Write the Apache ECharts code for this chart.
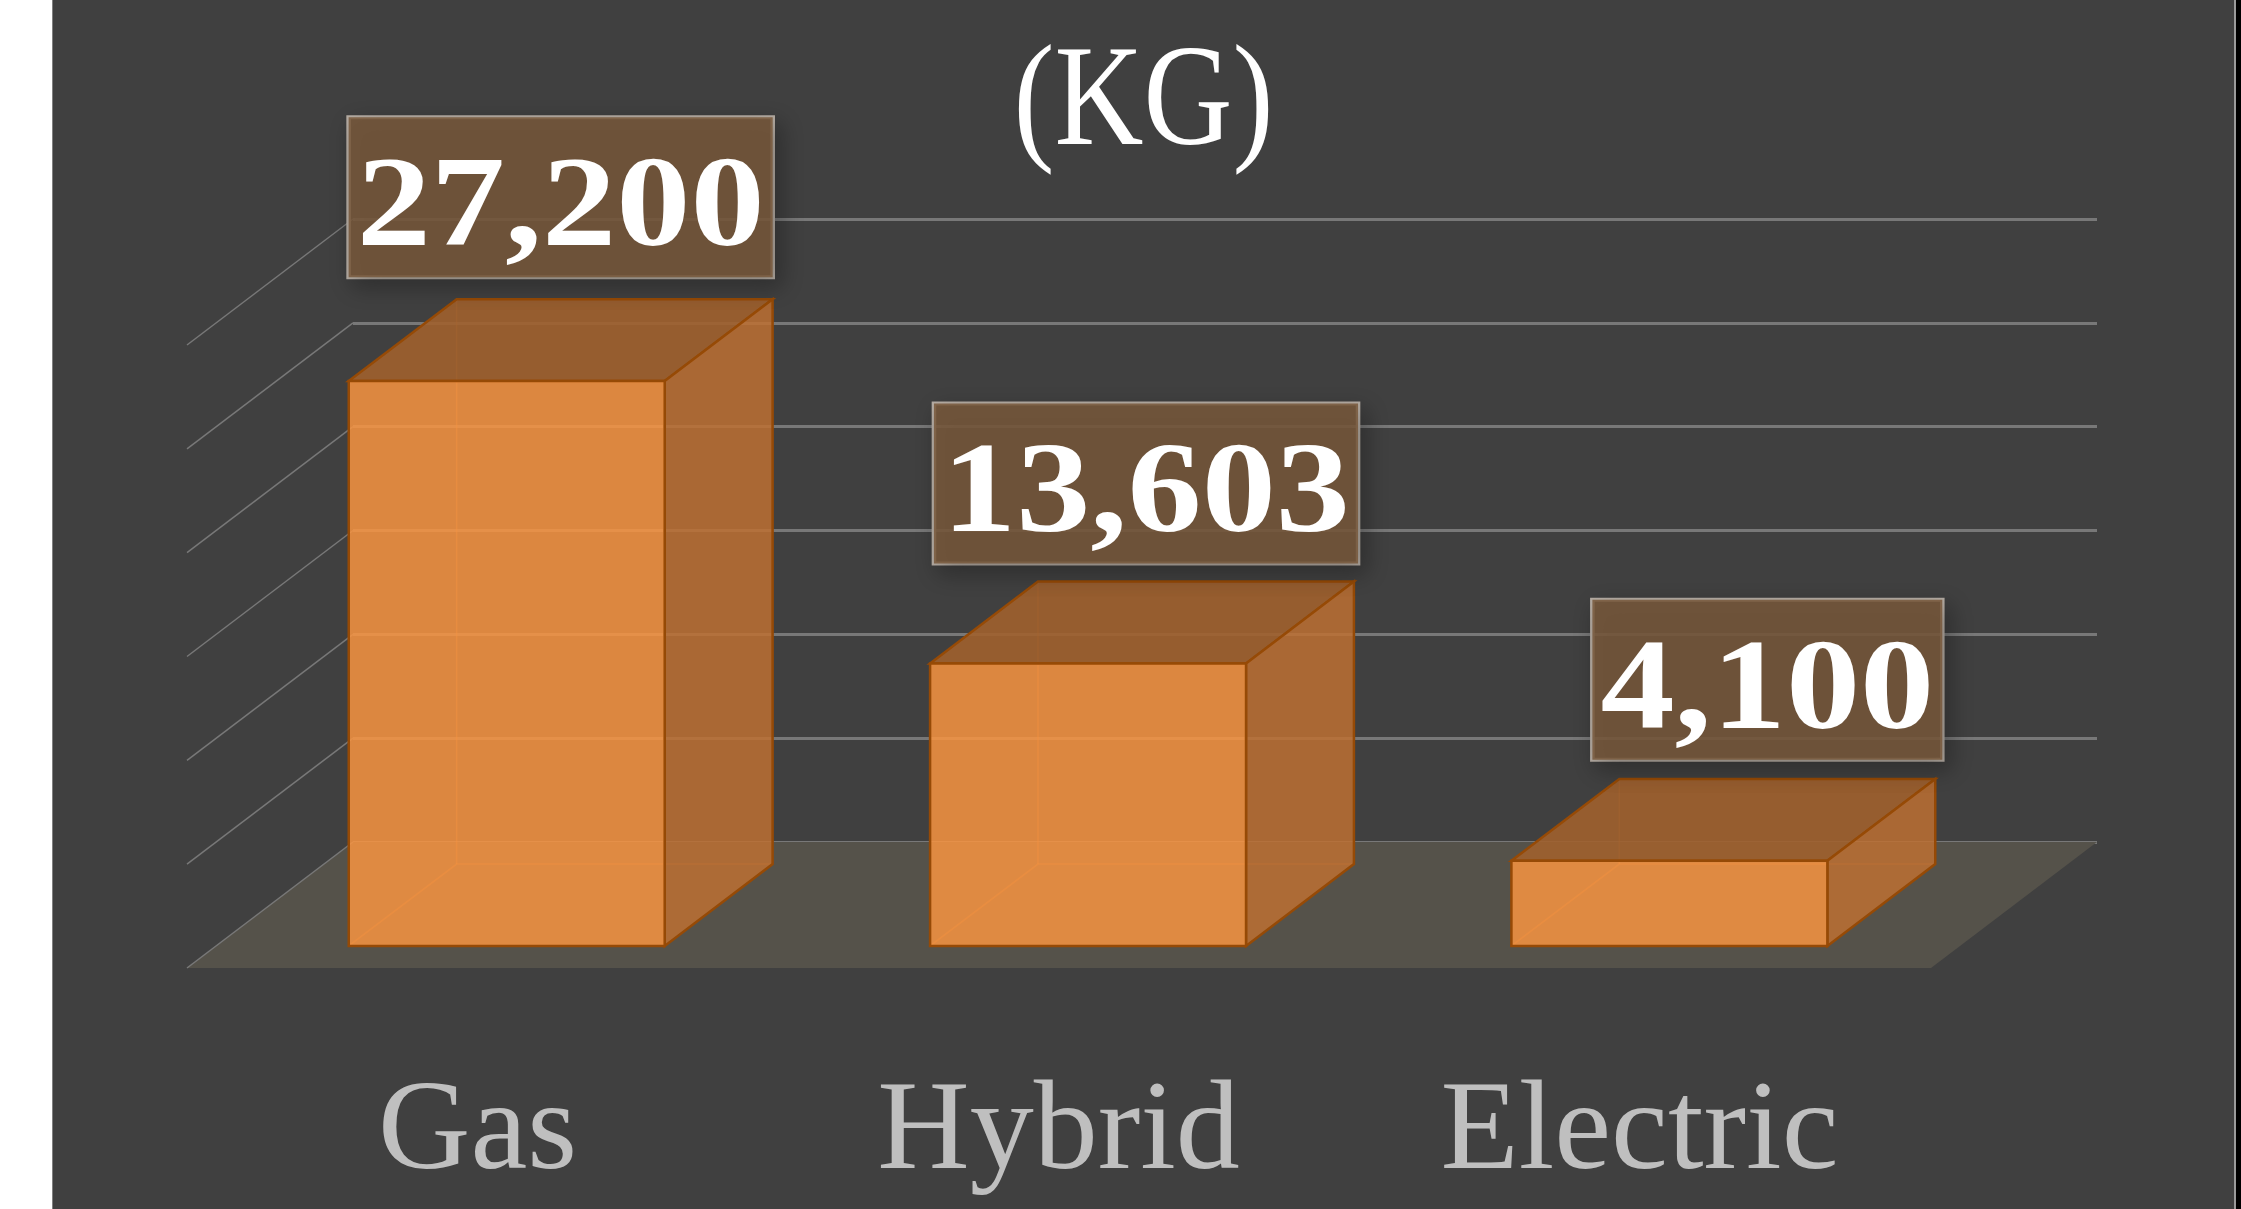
<!DOCTYPE html>
<html>
<head>
<meta charset="utf-8">
<title>Weight by vehicle type</title>
<script src="https://cdn.jsdelivr.net/npm/echarts@6/dist/echarts.min.js"></script>
<style>
    html, body { margin: 0; padding: 0; background: #fff; }
    /* white strip on the left, dark slide, thin frame and black on the right */
    #main {
        width: 2241px; height: 1209px;
        background: linear-gradient(90deg, #fff 52px, #808080 52px, #808080 53px, #404040 53px,
            #404040 2234px, #9a9a9a 2234px, #9a9a9a 2236px, #000 2236px);
    }
</style>
</head>
<body>
<div id="main"></div>
<script>
var categories = ['Gas', 'Hybrid', 'Electric'];
var weights = [27200, 13603, 4100];
var yTicks = [0, 5000, 10000, 15000, 20000, 25000, 30000];

const SERIF = '"Liberation Serif", serif';
const DEPTH_X = -166;       // floor depth, back wall to front edge
const DEPTH_Y = 126;
const BAR_NEAR = 0.825;     // where the bar's front face sits in that depth
const BAR_FAR = 0.175;      // and its back face
const BAR_RATIO = 0.5435;   // bar width / category width
const LABEL_NUDGE_X = [0, 4, 44]; // labels were moved by hand in the original
const LABEL_NUDGE_Y = [0, 4, 3];

/* Floor of the 3D plot */
function renderFloor(params, api) {
    var cs = params.coordSys;
    var y = api.coord([0, 0])[1];
    return {
        type: 'polygon',
        shape: { points: [
            [cs.x, y], [cs.x + cs.width, y],
            [cs.x + cs.width + DEPTH_X, y + DEPTH_Y], [cs.x + DEPTH_X, y + DEPTH_Y]
        ] },
        style: { fill: '#55524a' }
    };
}

/* Side wall lines going from the back wall to the front */
function renderSideLine(params, api) {
    var x = params.coordSys.x;
    var y = api.coord([0, api.value(1)])[1];
    return {
        type: 'line',
        shape: { x1: x, y1: y, x2: x + DEPTH_X, y2: y + DEPTH_Y },
        style: { stroke: '#787878', lineWidth: 1.5 }
    };
}

/* One 3D bar, front face from the axis scale, rest by the depth offset */
function renderBar(params, api) {
    var base = api.coord([api.value(0), 0]);
    var top = api.coord([api.value(0), api.value(1)]);
    var w = api.size([1, 0])[0] * BAR_RATIO;

    var fl = base[0] - w / 2 + DEPTH_X * BAR_NEAR;   // front left
    var fr = fl + w;
    var bl = base[0] - w / 2 + DEPTH_X * BAR_FAR;    // back left
    var br = bl + w;
    var fb = base[1] + DEPTH_Y * BAR_NEAR;           // front bottom
    var ft = top[1] + DEPTH_Y * BAR_NEAR;            // front top
    var bb = base[1] + DEPTH_Y * BAR_FAR;            // back bottom
    var bt = top[1] + DEPTH_Y * BAR_FAR;             // back top

    var edge = '#964a06';
    var hidden = 'rgba(240,138,52,0.4)';

    return {
        type: 'group',
        children: [
            // hidden edges seen through the faces
            { type: 'polyline', shape: { points: [[fl, fb], [bl, bb], [br, bb]] }, style: { stroke: hidden, fill: null, lineWidth: 1.5 } },
            { type: 'line', shape: { x1: bl, y1: bb, x2: bl, y2: bt }, style: { stroke: hidden, lineWidth: 1.5 } },
            // top
            { type: 'polygon', shape: { points: [[fl, ft], [bl, bt], [br, bt], [fr, ft]] }, style: { fill: 'rgba(160,97,46,0.9)', stroke: edge, lineWidth: 2.5 } },
            // side
            { type: 'polygon', shape: { points: [[fr, ft], [br, bt], [br, bb], [fr, fb]] }, style: { fill: 'rgba(189,112,50,0.85)', stroke: edge, lineWidth: 2.5 } },
            // front
            { type: 'rect', shape: { x: fl, y: ft, width: w, height: fb - ft }, style: { fill: 'rgba(248,148,65,0.85)', stroke: edge, lineWidth: 2.5 } }
        ]
    };
}

/* Value label box above each bar */
function renderLabel(params, api) {
    var i = api.value(0);
    var base = api.coord([i, 0]);
    var top = api.coord([i, api.value(1)]);
    var w = api.size([1, 0])[0] * BAR_RATIO;
    var left = base[0] - w / 2 + DEPTH_X * BAR_NEAR;
    var right = base[0] + w / 2 + DEPTH_X * BAR_FAR;
    return {
        type: 'text',
        x: (left + right) / 2 + LABEL_NUDGE_X[i],
        y: top[1] - 160 + LABEL_NUDGE_Y[i],
        scaleX: 1.15,
        style: {
            text: api.value(1).toLocaleString('en-US'),
            font: 'bold 129px ' + SERIF,
            fill: '#fff',
            align: 'center',
            verticalAlign: 'top',   // padding only moves the text with top alignment
            lineHeight: 131,
            padding: [29, 7, 0, 7],
            backgroundColor: 'rgba(120,88,59,0.85)',
            borderColor: '#b5aca3',
            borderWidth: 2,
            shadowColor: 'rgba(0,0,0,0.3)',
            shadowBlur: 22,
            shadowOffsetX: 6,
            shadowOffsetY: 8
        }
    };
}

var chart = echarts.init(document.getElementById('main'));

var barData = weights.map(function (v, i) { return [i, v]; });
var wallData = yTicks.map(function (v) { return [0, v]; });

var option = {
    animation: false,
    graphic: [{
        type: 'text',
        x: 1143.5,
        y: 106,
        scaleX: 0.85,
        style: { text: '(KG)', font: '145px ' + SERIF, fill: '#fff', align: 'center', verticalAlign: 'middle' }
    }],
    grid: [
        { left: 353, top: 219, width: 1744, height: 623 },   // back wall
        { left: 187, top: 345, width: 1743, height: 623 }    // front plane, only for the labels
    ],
    xAxis: [
        { type: 'category', gridIndex: 0, data: categories, axisLine: { show: false }, axisTick: { show: false }, axisLabel: { show: false } },
        {
            type: 'category', gridIndex: 1, data: categories,
            axisLine: { show: false }, axisTick: { show: false },
            axisLabel: { color: '#bfbfbf', fontFamily: SERIF, fontSize: 128, margin: 102 }
        }
    ],
    yAxis: [
        {
            type: 'value', gridIndex: 0, min: 0, max: 30000, interval: 5000,
            axisLine: { show: false }, axisTick: { show: false }, axisLabel: { show: false },
            splitLine: { lineStyle: { color: '#787878', width: 3 } }
        },
        { type: 'value', gridIndex: 1, min: 0, max: 30000, show: false, splitLine: { show: false } }
    ],
    series: [
        { type: 'custom', name: 'floor', z: 1, renderItem: renderFloor, data: [[0, 0]], encode: { x: 0, y: 1 }, silent: true },
        { type: 'custom', name: 'wall', z: 2, renderItem: renderSideLine, data: wallData, encode: { x: 0, y: 1 }, silent: true },
        { type: 'custom', name: 'weight', z: 3, renderItem: renderBar, data: barData, encode: { x: 0, y: 1 } },
        { type: 'custom', name: 'labels', z: 4, renderItem: renderLabel, data: barData, encode: { x: 0, y: 1 }, silent: true }
    ]
};

chart.setOption(option);
</script>
</body>
</html>
